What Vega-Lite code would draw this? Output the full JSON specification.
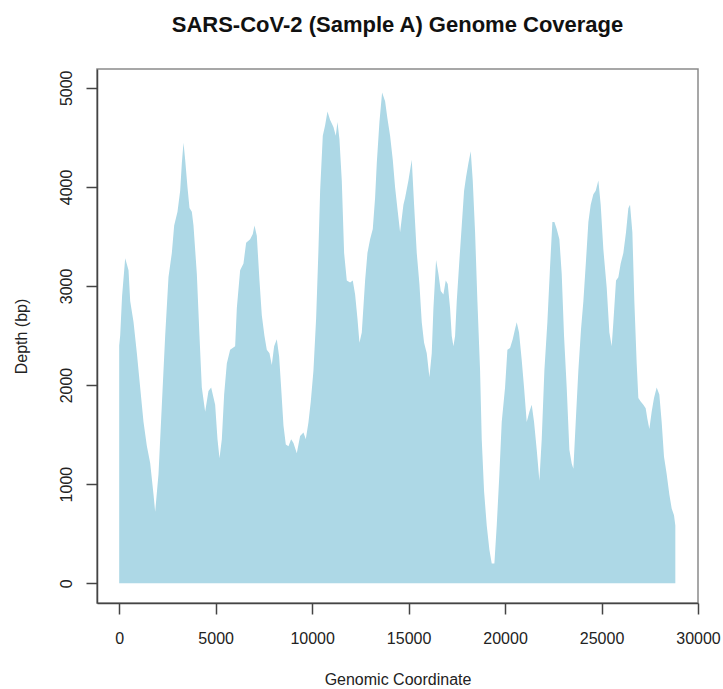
{
  "$schema": "https://vega.github.io/schema/vega-lite/v6.json",
  "width": 601,
  "height": 534,
  "autosize": {"type": "none"},
  "padding": {"left": 97, "top": 69, "right": 25, "bottom": 86},
  "background": "white",
  "title": {"text": "SARS-CoV-2 (Sample A) Genome Coverage", "font": "Liberation Sans", "fontSize": 22, "fontWeight": "bold", "color": "#111111", "anchor": "middle", "offset": 32},
  "config": {
    "view": {"stroke": "#8a8a8a", "strokeWidth": 1.5},
    "axis": {"grid": false, "tickColor": "#444444", "tickWidth": 1.5, "domainColor": "#444444", "domainWidth": 1.5, "labelFont": "Liberation Sans", "labelFontSize": 16, "labelColor": "#222222", "labelFlush": false, "labelOverlap": false, "labelBound": false, "titleFont": "Liberation Sans", "titleFontSize": 16, "titleFontWeight": "normal", "titleColor": "#222222"}
  },
  "data": {"values": [
    {"position": 0, "depth": 2400}, {"position": 52, "depth": 2500}, {"position": 150, "depth": 2900}, {"position": 311, "depth": 3280},
    {"position": 484, "depth": 3159}, {"position": 570, "depth": 2848}, {"position": 743, "depth": 2636}, {"position": 915, "depth": 2323},
    {"position": 1088, "depth": 1974}, {"position": 1261, "depth": 1626}, {"position": 1434, "depth": 1384}, {"position": 1606, "depth": 1212},
    {"position": 1779, "depth": 894}, {"position": 1865, "depth": 720}, {"position": 2038, "depth": 1103}, {"position": 2211, "depth": 1800},
    {"position": 2383, "depth": 2496}, {"position": 2556, "depth": 3091}, {"position": 2729, "depth": 3333}, {"position": 2850, "depth": 3611},
    {"position": 3022, "depth": 3750}, {"position": 3161, "depth": 3960}, {"position": 3247, "depth": 4238}, {"position": 3333, "depth": 4446},
    {"position": 3420, "depth": 4273}, {"position": 3541, "depth": 3994}, {"position": 3644, "depth": 3788}, {"position": 3765, "depth": 3750},
    {"position": 3851, "depth": 3611}, {"position": 4024, "depth": 3123}, {"position": 4162, "depth": 2496}, {"position": 4283, "depth": 1974},
    {"position": 4456, "depth": 1730}, {"position": 4628, "depth": 1939}, {"position": 4767, "depth": 1974}, {"position": 4974, "depth": 1800},
    {"position": 5095, "depth": 1452}, {"position": 5199, "depth": 1260}, {"position": 5320, "depth": 1452}, {"position": 5440, "depth": 1904},
    {"position": 5579, "depth": 2218}, {"position": 5751, "depth": 2357}, {"position": 6010, "depth": 2392}, {"position": 6097, "depth": 2775},
    {"position": 6269, "depth": 3159}, {"position": 6442, "depth": 3228}, {"position": 6580, "depth": 3436}, {"position": 6788, "depth": 3472},
    {"position": 6926, "depth": 3524}, {"position": 7012, "depth": 3611}, {"position": 7133, "depth": 3506}, {"position": 7271, "depth": 3054},
    {"position": 7392, "depth": 2705}, {"position": 7530, "depth": 2496}, {"position": 7651, "depth": 2357}, {"position": 7789, "depth": 2322},
    {"position": 7910, "depth": 2202}, {"position": 8031, "depth": 2392}, {"position": 8169, "depth": 2462}, {"position": 8290, "depth": 2287},
    {"position": 8394, "depth": 1974}, {"position": 8515, "depth": 1591}, {"position": 8636, "depth": 1399}, {"position": 8774, "depth": 1382},
    {"position": 8912, "depth": 1452}, {"position": 9033, "depth": 1416}, {"position": 9205, "depth": 1312}, {"position": 9378, "depth": 1486},
    {"position": 9551, "depth": 1521}, {"position": 9672, "depth": 1452}, {"position": 9810, "depth": 1625}, {"position": 9931, "depth": 1834},
    {"position": 10069, "depth": 2148}, {"position": 10207, "depth": 2671}, {"position": 10328, "depth": 3367}, {"position": 10415, "depth": 3960},
    {"position": 10553, "depth": 4516}, {"position": 10674, "depth": 4621}, {"position": 10795, "depth": 4761}, {"position": 10933, "depth": 4674},
    {"position": 11105, "depth": 4604}, {"position": 11226, "depth": 4516}, {"position": 11313, "depth": 4655}, {"position": 11416, "depth": 4482},
    {"position": 11537, "depth": 4064}, {"position": 11658, "depth": 3332}, {"position": 11797, "depth": 3054}, {"position": 11969, "depth": 3036},
    {"position": 12107, "depth": 3054}, {"position": 12228, "depth": 2914}, {"position": 12349, "depth": 2671}, {"position": 12453, "depth": 2426},
    {"position": 12574, "depth": 2531}, {"position": 12746, "depth": 3054}, {"position": 12867, "depth": 3332}, {"position": 13005, "depth": 3472},
    {"position": 13144, "depth": 3576}, {"position": 13264, "depth": 3890}, {"position": 13351, "depth": 4238}, {"position": 13489, "depth": 4656},
    {"position": 13627, "depth": 4952}, {"position": 13782, "depth": 4865}, {"position": 13903, "depth": 4691}, {"position": 14041, "depth": 4516},
    {"position": 14180, "depth": 4273}, {"position": 14301, "depth": 3994}, {"position": 14439, "depth": 3750}, {"position": 14560, "depth": 3541},
    {"position": 14732, "depth": 3820}, {"position": 14819, "depth": 3890}, {"position": 14991, "depth": 4064}, {"position": 15164, "depth": 4273},
    {"position": 15285, "depth": 3820}, {"position": 15423, "depth": 3332}, {"position": 15561, "depth": 3019}, {"position": 15682, "depth": 2635},
    {"position": 15803, "depth": 2426}, {"position": 15941, "depth": 2322}, {"position": 16079, "depth": 2078}, {"position": 16200, "depth": 2322},
    {"position": 16287, "depth": 2775}, {"position": 16425, "depth": 3263}, {"position": 16546, "depth": 3123}, {"position": 16667, "depth": 2949},
    {"position": 16805, "depth": 2914}, {"position": 16926, "depth": 3054}, {"position": 17029, "depth": 3019}, {"position": 17150, "depth": 2775},
    {"position": 17237, "depth": 2496}, {"position": 17323, "depth": 2392}, {"position": 17409, "depth": 2496}, {"position": 17496, "depth": 2845},
    {"position": 17634, "depth": 3263}, {"position": 17755, "depth": 3611}, {"position": 17876, "depth": 3960}, {"position": 17979, "depth": 4099},
    {"position": 18100, "depth": 4238}, {"position": 18221, "depth": 4360}, {"position": 18325, "depth": 4064}, {"position": 18446, "depth": 3541},
    {"position": 18567, "depth": 2845}, {"position": 18705, "depth": 2148}, {"position": 18791, "depth": 1452}, {"position": 18912, "depth": 929},
    {"position": 19050, "depth": 581}, {"position": 19188, "depth": 337}, {"position": 19309, "depth": 198}, {"position": 19447, "depth": 198},
    {"position": 19568, "depth": 581}, {"position": 19706, "depth": 1103}, {"position": 19827, "depth": 1626}, {"position": 20000, "depth": 1974},
    {"position": 20121, "depth": 2357}, {"position": 20259, "depth": 2375}, {"position": 20397, "depth": 2462}, {"position": 20518, "depth": 2566},
    {"position": 20604, "depth": 2635}, {"position": 20725, "depth": 2531}, {"position": 20863, "depth": 2253}, {"position": 20984, "depth": 1974},
    {"position": 21122, "depth": 1626}, {"position": 21261, "depth": 1730}, {"position": 21382, "depth": 1800}, {"position": 21503, "depth": 1626},
    {"position": 21641, "depth": 1347}, {"position": 21779, "depth": 1034}, {"position": 21900, "depth": 1452}, {"position": 22038, "depth": 2148},
    {"position": 22193, "depth": 2635}, {"position": 22332, "depth": 3193}, {"position": 22453, "depth": 3646}, {"position": 22556, "depth": 3646},
    {"position": 22677, "depth": 3576}, {"position": 22815, "depth": 3472}, {"position": 22936, "depth": 3123}, {"position": 23057, "depth": 2496},
    {"position": 23195, "depth": 1974}, {"position": 23333, "depth": 1347}, {"position": 23454, "depth": 1208}, {"position": 23541, "depth": 1155},
    {"position": 23662, "depth": 1626}, {"position": 23799, "depth": 2148}, {"position": 23938, "depth": 2566}, {"position": 24059, "depth": 2845},
    {"position": 24197, "depth": 3263}, {"position": 24318, "depth": 3646}, {"position": 24439, "depth": 3820}, {"position": 24577, "depth": 3925},
    {"position": 24698, "depth": 3960}, {"position": 24836, "depth": 4064}, {"position": 24957, "depth": 3820}, {"position": 25095, "depth": 3367},
    {"position": 25268, "depth": 2984}, {"position": 25406, "depth": 2531}, {"position": 25527, "depth": 2392}, {"position": 25613, "depth": 2635},
    {"position": 25751, "depth": 3054}, {"position": 25872, "depth": 3089}, {"position": 25993, "depth": 3228}, {"position": 26131, "depth": 3332},
    {"position": 26269, "depth": 3541}, {"position": 26390, "depth": 3785}, {"position": 26477, "depth": 3820}, {"position": 26598, "depth": 3541},
    {"position": 26701, "depth": 2845}, {"position": 26822, "depth": 2218}, {"position": 26908, "depth": 1870}, {"position": 27029, "depth": 1834},
    {"position": 27167, "depth": 1800}, {"position": 27288, "depth": 1765}, {"position": 27375, "depth": 1661}, {"position": 27478, "depth": 1556},
    {"position": 27599, "depth": 1730}, {"position": 27720, "depth": 1870}, {"position": 27858, "depth": 1974}, {"position": 27996, "depth": 1904},
    {"position": 28117, "depth": 1626}, {"position": 28238, "depth": 1277}, {"position": 28376, "depth": 1103}, {"position": 28515, "depth": 894},
    {"position": 28636, "depth": 755}, {"position": 28756, "depth": 685}, {"position": 28825, "depth": 581}
  ]},
  "mark": {"type": "area", "color": "#ADD8E6", "interpolate": "linear", "opacity": 1},
  "encoding": {
    "x": {
      "field": "position", "type": "quantitative",
      "scale": {"domain": [-1150, 30000], "nice": false, "zero": false},
      "axis": {"title": "Genomic Coordinate", "values": [0, 5000, 10000, 15000, 20000, 25000, 30000], "format": "d", "tickSize": 11, "labelPadding": 16, "labelBaseline": "top", "labelAlign": "center", "titleX": 300.5, "titleY": 76, "titleBaseline": "middle", "titleAlign": "center"}
    },
    "y": {
      "field": "depth", "type": "quantitative",
      "scale": {"domain": [-200, 5190], "nice": false, "zero": false},
      "axis": {"title": "Depth (bp)", "values": [0, 1000, 2000, 3000, 4000, 5000], "format": "d", "tickSize": 11, "labelAngle": 270, "labelAlign": "center", "labelBaseline": "bottom", "labelPadding": 12, "titleX": -76, "titleY": 267, "titleAngle": 270, "titleBaseline": "middle", "titleAlign": "center"}
    }
  }
}
